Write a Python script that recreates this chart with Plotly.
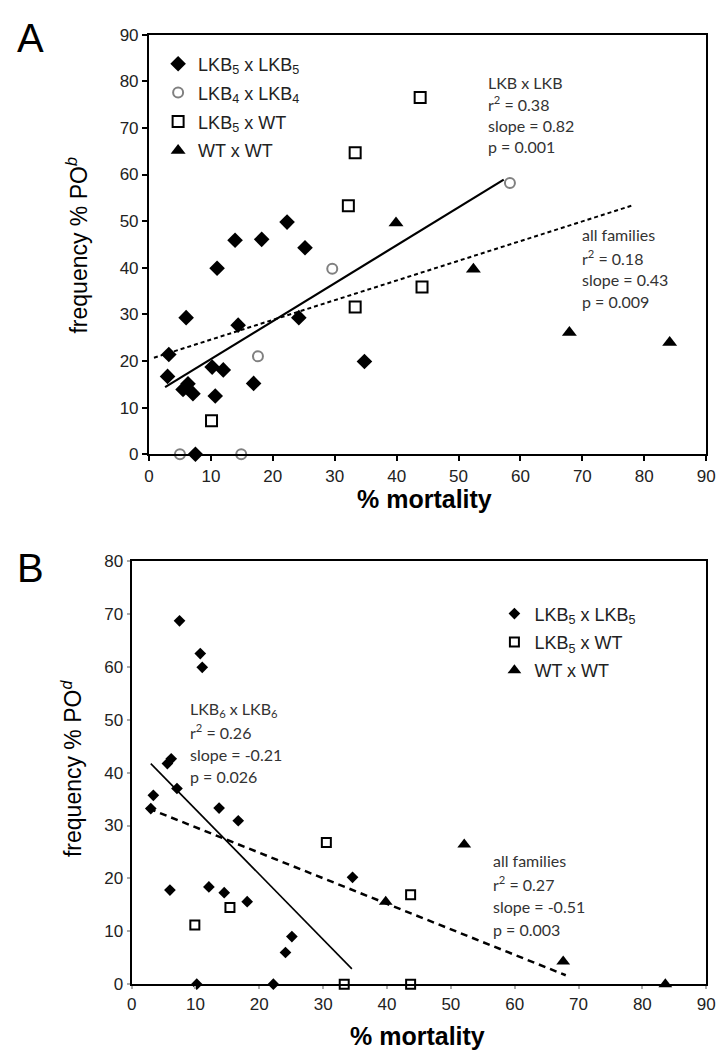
import plotly.graph_objects as go

# ---------------- Panel A data ----------------
a_lkb5_x = [3.2, 3.0, 6.0, 5.5, 6.3, 7.1, 7.5, 11.0, 10.2, 12.0, 10.7, 14.4, 16.9, 24.2, 13.9, 18.2, 22.3, 25.2, 34.8]
a_lkb5_y = [21.4, 16.7, 29.3, 13.9, 15.1, 13.0, 0.0, 39.9, 18.7, 18.1, 12.5, 27.7, 15.2, 29.3, 45.9, 46.1, 49.8, 44.3, 19.9]
a_lkb4_x = [5.0, 14.9, 17.6, 29.6, 58.3]
a_lkb4_y = [0.0, 0.0, 21.0, 39.8, 58.2]
a_lkbwt_x = [10.1, 32.2, 33.3, 43.8, 33.3, 44.1]
a_lkbwt_y = [7.2, 53.3, 64.7, 76.5, 31.6, 35.9]
a_wt_x = [39.9, 52.4, 67.9, 84.1]
a_wt_y = [49.6, 39.7, 26.1, 24.0]
a_fit_lkb_x = [2.6, 57.3]
a_fit_lkb_y = [14.4, 58.9]
a_fit_all_x = [0.8, 77.9]
a_fit_all_y = [20.7, 53.3]

# ---------------- Panel B data ----------------
b_lkb5_x = [7.5, 10.75, 11.06, 5.6, 6.2, 3.4, 3.0, 7.1, 6.0, 12.1, 14.5, 13.7, 16.7, 18.1, 24.1, 25.1, 10.2, 22.2, 34.6]
b_lkb5_y = [68.7, 62.5, 59.9, 41.7, 42.6, 35.7, 33.2, 37.0, 17.8, 18.4, 17.3, 33.3, 30.9, 15.6, 6.0, 9.0, 0.0, 0.0, 20.2]
b_lkbwt_x = [9.9, 15.4, 30.5, 33.3, 43.7, 43.7]
b_lkbwt_y = [11.2, 14.5, 26.8, 0.0, 16.9, 0.0]
b_wt_x = [39.8, 52.1, 67.6, 83.6]
b_wt_y = [15.6, 26.4, 4.3, 0.0]
b_fit_lkb_x = [3.0, 34.5]
b_fit_lkb_y = [41.7, 2.9]
b_fit_all_x = [2.7, 68.0]
b_fit_all_y = [33.2, 1.7]

ticks_a = list(range(0, 91, 10))
ticks_b_y = list(range(0, 81, 10))

OFF = 8            # page body margin
W, H = 725 - OFF, 1061 - OFF

def pxx(X):
    return (X - OFF) / W

def pyy(Y):
    return (H - (Y - OFF)) / H

TICKFONT = dict(family="Liberation Sans, Arial", size=17, color="#222")
STATFONT = dict(family="Lato, Open Sans", size=16, color="#333")
LEGFONT = dict(family="Liberation Sans, Arial", size=18, color="#222")

fig = go.Figure()

def sc(x, y, name, marker, xa, ya, legend, group):
    fig.add_trace(go.Scatter(x=x, y=y, mode="markers", name=name, marker=marker,
                             xaxis=xa, yaxis=ya, cliponaxis=False, legend=legend,
                             legendgroup=group))

# Panel A traces
fig.add_trace(go.Scatter(x=a_fit_lkb_x, y=a_fit_lkb_y, mode="lines", showlegend=False,
                         line=dict(color="black", width=2.2), xaxis="x", yaxis="y"))
fig.add_trace(go.Scatter(x=a_fit_all_x, y=a_fit_all_y, mode="lines", showlegend=False,
                         line=dict(color="black", width=2, dash="4px,3px"), xaxis="x", yaxis="y"))
sc(a_lkb5_x, a_lkb5_y, "LKB<sub>5</sub> x LKB<sub>5</sub>",
   dict(symbol="diamond", size=12, color="black"), "x", "y", "legend", "a1")
sc(a_lkb4_x, a_lkb4_y, "LKB<sub>4</sub> x LKB<sub>4</sub>",
   dict(symbol="circle-open", size=10, color="#808080", line=dict(width=2, color="#808080")), "x", "y", "legend", "a2")
sc(a_lkbwt_x, a_lkbwt_y, "LKB<sub>5</sub> x WT",
   dict(symbol="square-open", size=11, color="black", line=dict(width=2, color="black")), "x", "y", "legend", "a3")
sc(a_wt_x, a_wt_y, "WT x WT",
   dict(symbol="triangle-up", size=13, color="black"), "x", "y", "legend", "a4")

# Panel B traces
fig.add_trace(go.Scatter(x=b_fit_lkb_x, y=b_fit_lkb_y, mode="lines", showlegend=False,
                         line=dict(color="black", width=1.6), xaxis="x2", yaxis="y2"))
fig.add_trace(go.Scatter(x=b_fit_all_x, y=b_fit_all_y, mode="lines", showlegend=False,
                         line=dict(color="black", width=2.5, dash="7px,5px"), xaxis="x2", yaxis="y2"))
sc(b_lkb5_x, b_lkb5_y, "LKB<sub>5</sub> x LKB<sub>5</sub>",
   dict(symbol="diamond", size=9, color="black"), "x2", "y2", "legend2", "b1")
sc(b_lkbwt_x, b_lkbwt_y, "LKB<sub>5</sub> x WT",
   dict(symbol="square-open", size=9, color="black", line=dict(width=2, color="black")), "x2", "y2", "legend2", "b2")
sc(b_wt_x, b_wt_y, "WT x WT",
   dict(symbol="triangle-up", size=12, color="black"), "x2", "y2", "legend2", "b3")

axA = dict(range=[0, 90], tickvals=ticks_a, showline=True, linewidth=2, linecolor="black",
           mirror=True, ticks="outside", ticklen=5, tickwidth=2, tickcolor="black",
           showgrid=False, zeroline=False, tickfont=TICKFONT, fixedrange=True)
axB = dict(showline=True, linewidth=2, linecolor="black", mirror=True, ticks="outside",
           ticklen=3, tickwidth=2, tickcolor="#aaa", showgrid=False, zeroline=False,
           tickfont=TICKFONT, fixedrange=True)

fig.update_layout(
    width=W, height=H, margin=dict(l=0, r=0, t=0, b=0),
    paper_bgcolor="white", plot_bgcolor="white",
    xaxis=dict(axA, domain=[pxx(146.7), pxx(715)], anchor="y"),
    yaxis=dict(axA, domain=[pyy(453.3), pyy(26)], anchor="x"),
    xaxis2=dict(axB, range=[0, 90], tickvals=ticks_a, domain=[pxx(129), pxx(715)], anchor="y2"),
    yaxis2=dict(axB, range=[0, 80], tickvals=ticks_b_y, domain=[pyy(993), pyy(562)], anchor="x2"),
    legend=dict(x=pxx(156), y=pyy(37), xanchor="left", yanchor="top", bgcolor="rgba(0,0,0,0)",
                font=LEGFONT, tracegroupgap=2.5, itemwidth=30),
    legend2=dict(x=pxx(499), y=pyy(597), xanchor="left", yanchor="top", bgcolor="rgba(0,0,0,0)",
                 font=LEGFONT, tracegroupgap=2, itemwidth=30),
    showlegend=True,
)

ann = []
def txt(x, y, s, font, **kw):
    d = dict(x=pxx(x), y=pyy(y), xref="paper", yref="paper", text=s, showarrow=False,
             font=font, xanchor="left", yanchor="middle", align="left")
    d.update(kw)
    ann.append(d)

LETTER = dict(family="Liberation Sans, Arial", size=40, color="black")
XTITLE = dict(family="Liberation Sans, Arial", size=25, color="black")
YTITLE = dict(family="Liberation Sans, Arial", size=23, color="black")
txt(10, 29, "A", LETTER)
txt(10, 569, "B", LETTER)
txt(428, 499, "<b>% mortality</b>", XTITLE, xanchor="center")
txt(421, 1046, "<b>% mortality</b>", XTITLE, xanchor="center")
txt(73, 241, "frequency % PO<sup><i>b</i></sup>", YTITLE, xanchor="center", textangle=-90)
txt(68, 773, "frequency % PO<sup><i>d</i></sup>", YTITLE, xanchor="center", textangle=-90)

for i, s in enumerate(["LKB x LKB", "r<sup>2</sup> = 0.38", "slope = 0.82", "p = 0.001"]):
    txt(490, 75 + 21.5 * i, s, STATFONT)
for i, s in enumerate(["all families", "r<sup>2</sup> = 0.18", "slope = 0.43", "p = 0.009"]):
    txt(586, 230 + 22.7 * i, s, STATFONT)
for i, s in enumerate(["LKB<sub>6</sub> x LKB<sub>6</sub>", "r<sup>2</sup> = 0.26", "slope = -0.21", "p = 0.026"]):
    txt(186, 713 + 22.8 * i, s, STATFONT)
for i, s in enumerate(["all families", "r<sup>2</sup> = 0.27", "slope = -0.51", "p = 0.003"]):
    txt(496, 867 + 23.3 * i, s, STATFONT)

fig.update_layout(annotations=ann)
fig.write_html("out.html")
